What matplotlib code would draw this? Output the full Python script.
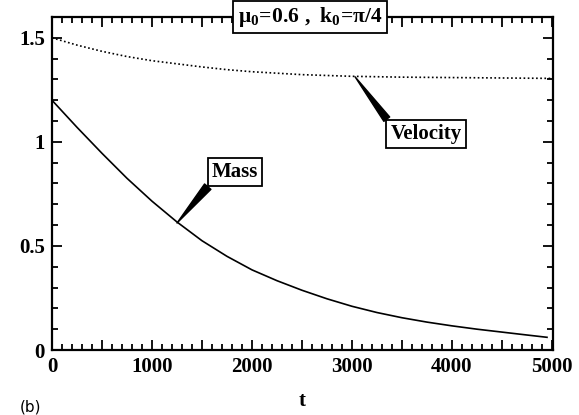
import matplotlib
matplotlib.use("Agg")
import matplotlib.pyplot as plt
from matplotlib.ticker import MultipleLocator, FuncFormatter

plt.rcParams['font.family'] = ['Liberation Serif', 'DejaVu Serif']
plt.rcParams['font.weight'] = 'bold'
plt.rcParams['mathtext.fontset'] = 'custom'
plt.rcParams['mathtext.rm'] = 'Liberation Serif:bold'
plt.rcParams['mathtext.it'] = 'Liberation Serif:bold'
plt.rcParams['mathtext.bf'] = 'Liberation Serif:bold'

# Data
t_mass = [0, 250, 500, 750, 1000, 1250, 1500, 1750, 2000, 2250, 2500, 2750,
          3000, 3250, 3500, 3750, 4000, 4250, 4500, 4750, 4950]
mass = [1.20, 1.07, 0.945, 0.825, 0.715, 0.615, 0.525, 0.45, 0.385, 0.333, 0.287, 0.246,
        0.21, 0.18, 0.155, 0.134, 0.116, 0.10, 0.086, 0.072, 0.061]
t_vel = [0, 250, 500, 750, 1000, 1250, 1500, 1750, 2000, 2500, 3000, 3500, 4000, 4500, 5000]
velocity = [1.50, 1.465, 1.435, 1.41, 1.39, 1.375, 1.36, 1.347, 1.337, 1.323,
            1.315, 1.311, 1.309, 1.307, 1.305]
title_text = r'$\mu_0\!=\!0.6\ ,\ k_0\!=\!\pi/4$'

fig = plt.figure(figsize=(5.79, 4.15), dpi=100)
ax = fig.add_axes([52/579, 65/415, 501/579, 333/415])

ax.plot(t_mass, mass, color='black', lw=1.2)
ax.plot(t_vel, velocity, color='black', lw=1.2, linestyle=(0, (1, 1.5)))

ax.set_xlim(0, 5010)
ax.set_ylim(0, 1.6)
ax.xaxis.set_major_locator(MultipleLocator(500))
ax.xaxis.set_minor_locator(MultipleLocator(100))
ax.yaxis.set_major_locator(MultipleLocator(0.5))
ax.yaxis.set_minor_locator(MultipleLocator(0.1))
ax.xaxis.set_major_formatter(FuncFormatter(lambda v, p: f"{int(round(v))}" if abs(v % 1000) < 1e-6 else ""))
ax.yaxis.set_major_formatter(FuncFormatter(lambda v, p: f"{v:g}"))

ax.tick_params(which='both', direction='in', top=True, right=True, width=1.3,
               labelsize=15, pad=5)
ax.tick_params(which='major', length=7)
ax.tick_params(which='minor', length=4)
for s in ax.spines.values():
    s.set_linewidth(1.6)
for lab in ax.get_xticklabels() + ax.get_yticklabels():
    lab.set_fontweight('bold')

ax.set_xlabel('t', fontsize=15, fontweight='bold', labelpad=10)

bbox = dict(boxstyle='square,pad=0.2', fc='white', ec='black', lw=1.3)
ax.annotate('Mass', xy=(1250, 0.61), xytext=(1830, 0.856), fontsize=15, fontweight='bold',
            ha='center', va='center', bbox=bbox,
            arrowprops=dict(arrowstyle='wedge,tail_width=0.4', color='black',
                            relpos=(0, 0), shrinkA=0, shrinkB=0))
ax.annotate('Velocity', xy=(3030, 1.313), xytext=(3740, 1.038), fontsize=15, fontweight='bold',
            ha='center', va='center', bbox=bbox,
            arrowprops=dict(arrowstyle='wedge,tail_width=0.35', color='black',
                            relpos=(0, 1), shrinkA=0, shrinkB=0))

ax.text(0.515, 1.0, title_text, transform=ax.transAxes, fontsize=15.5,
        ha='center', va='center', bbox=dict(boxstyle='square,pad=0.2', fc='white', ec='black', lw=1.3),
        zorder=10)

fig.text(20/579, 1/415, '(b)', fontsize=11, family='DejaVu Sans', fontweight='normal',
         ha='left', va='bottom')

fig.savefig('out.png', dpi=100)
